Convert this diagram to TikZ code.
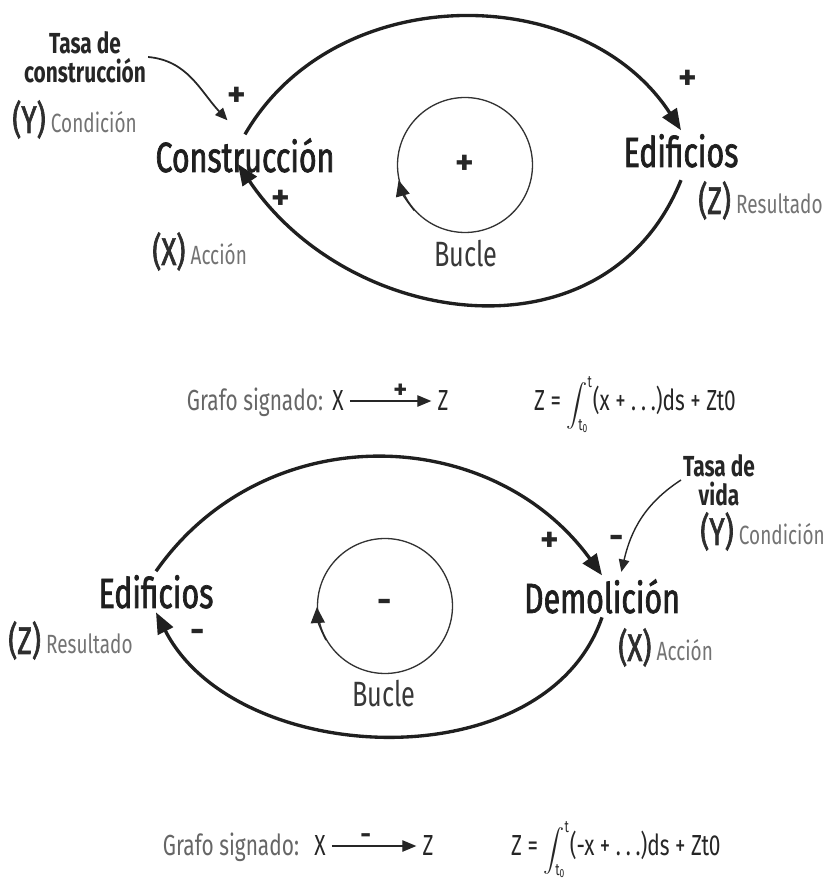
\documentclass[tikz,border=0pt]{standalone}
\usepackage{exscale}
\usepackage{fontspec}
\setmainfont{Fira Sans}[FakeStretch=0.72]
\newfontfamily\labelfont{Fira Sans}[FakeStretch=0.72, FakeBold=1.6]
\newfontfamily\signfont{Fira Sans}
\usetikzlibrary{arrows.meta}

\newcommand{\roletag}[1]{\hspace{3pt}{\normalfont\color{black!55}\fontsize{15}{15}\selectfont #1}}
\newcommand{\limtext}[1]{\mbox{\fontsize{9.5}{9.5}\selectfont #1}}

\tikzset{
  var/.style={font=\labelfont\fontsize{24}{26}\selectfont, text=black!88, inner sep=2pt, anchor=base},
  role/.style={font=\labelfont\fontsize{22}{24}\selectfont, text=black!82, inner sep=0pt, anchor=base west},
  rate/.style={font=\bfseries\fontsize{16.5}{16.5}\selectfont, text=black!85, align=center, inner sep=1pt},
  sign/.style={font=\signfont\bfseries\fontsize{20}{20}\selectfont, text=black!85, inner sep=0pt},
  smallsign/.style={font=\signfont\bfseries\fontsize{15}{15}\selectfont, text=black!85, inner sep=1pt},
  loopname/.style={font=\fontsize{20}{22}\selectfont, text=black!78, anchor=base},
  loopcirc/.style={circle, draw=black!80, line width=0.75pt, minimum size=2.7cm, inner sep=0pt,
                   font=\signfont\bfseries\fontsize{20}{20}\selectfont, text=black!85},
  formula/.style={font=\fontsize{16.5}{18}\selectfont, text=black!85, anchor=base},
  bigloop/.style={line width=1.9pt, draw=black!88, -{Triangle[length=12pt,width=9.5pt]}},
  rateline/.style={line width=1pt, draw=black!85, -{Triangle[length=7pt,width=6pt]}},
  circarrow/.style={line width=0.75pt, draw=black!85, -{Triangle[length=9pt,width=8pt]}},
  graphline/.style={line width=0.8pt, draw=black!85, -{Triangle[length=8pt,width=6.5pt]}},
}

\begin{document}
\begin{tikzpicture}[x=0.02cm, y=0.02cm]
    \useasboundingbox (0,0) rectangle (836,890);

    % Top loop (reinforcing)
    \node[var] (constr) at (245,718) {Construcción};
    \node[var] (edifA) at (681,723) {Edificios};

    \node[rate] (tasaA) at (85,833) {Tasa de\\construcción};
    \node[role] (condA) at (12,757) {(Y)\roletag{Condición}};
    \node[role] (accA) at (152,625) {(X)\roletag{Acción}};
    \node[role] (resA) at (698,676) {(Z)\roletag{Resultado}};

    % Loop polarity
    \node[loopcirc] (circA) at (465,725) {+};
    \node[loopname] (bucleA) at (466,623) {Bucle};

    % Link signs
    \node[sign] (signA1) at (237,793) {+};
    \node[sign] (signA2) at (688,810) {+};
    \node[sign] (signA3) at (281,690) {+};

    % Links
    \draw[bigloop] (constr.north) to[out=60, in=123, looseness=1.05] (edifA.north);
    \draw[bigloop] ([yshift=-5pt]edifA.south) to[out=248, in=-56, looseness=1.15] ([xshift=-4pt,yshift=7pt]constr.south);
    \draw[rateline] (tasaA.east) to[out=-5, in=133] ([xshift=-10pt,yshift=8pt]constr.north);
    \draw[circarrow] (circA.222) to[bend left=12] (circA.193);

    % Signed graph, top
    \node[formula, text=black!60] (grafoA) at (255,479) {Grafo signado:};
    \node[formula] (xA) at (338,479) {X};
    \node[formula] (zA) at (443,479) {Z};
    \draw[graphline] (xA) -- (zA) node[pos=0.62, above, smallsign] (signA4) {+};
    \node[formula, anchor=base west] (eqA) at (528,479)
        {Z = {\fontsize{12}{12}\selectfont$\displaystyle\int_{\limtext{t\textsubscript{0}}}^{\limtext{t}}$}(x + .\,.\,.)ds + Zt0};

    % Bottom loop (balancing)
    \node[var] (edifB) at (156,282) {Edificios};
    \node[var] (demol) at (602,277) {Demolición};

    \node[rate] (tasaB) at (719,410) {Tasa de\\vida};
    \node[role] (condB) at (700,345) {(Y)\roletag{Condición}};
    \node[role] (accB) at (618,229) {(X)\roletag{Acción}};
    \node[role] (resB) at (8,236) {(Z)\roletag{Resultado}};

    % Loop polarity
    \node[loopcirc] (circB) at (385,284) {-};
    \node[loopname] (bucleB) at (384,183) {Bucle};

    % Link signs
    \node[sign] (signB1) at (550,348) {+};
    \node[sign] (signB2) at (617,348) {-};
    \node[sign] (signB3) at (198,254) {-};

    % Links
    \draw[bigloop] (edifB.north) to[out=55, in=126, looseness=1.08] (demol.north);
    \draw[bigloop] (demol.south) to[out=251, in=-63] (edifB.south);
    \draw[rateline, line width=0.8pt] (tasaB.west) to[out=213, in=77] ([xshift=11pt,yshift=2pt]demol.north);
    \draw[circarrow] (circB.210) to[bend left=12] (circB.181);

    % Signed graph, bottom
    \node[formula, text=black!60] (grafoB) at (231,34) {Grafo signado:};
    \node[formula] (xB) at (320,34) {X};
    \node[formula] (zB) at (428,34) {Z};
    \draw[graphline] (xB) -- (zB) node[pos=0.4, above, smallsign] (signB4) {-};
    \node[formula, anchor=base west] (eqB) at (505,34)
        {Z = {\fontsize{12}{12}\selectfont$\displaystyle\int_{\limtext{t\textsubscript{0}}}^{\limtext{t}}$}(-x + .\,.\,.)ds + Zt0};
\end{tikzpicture}
\end{document}
